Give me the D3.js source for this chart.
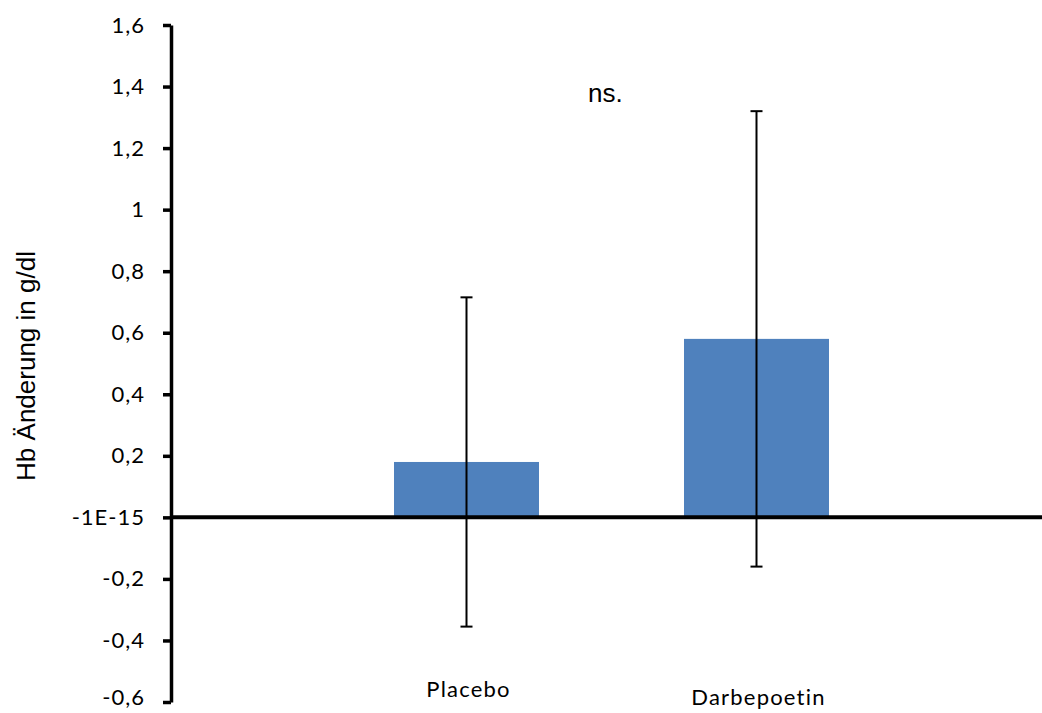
<!DOCTYPE html>
<html>
<head>
<meta charset="utf-8">
<script src="https://cdn.jsdelivr.net/npm/d3@7"></script>
<style>
  html, body { margin: 0; padding: 0; background: #fff; }
  svg { display: block; }
</style>
</head>
<body>
<svg id="chart" width="1042" height="713"></svg>
<script>
// Mean Hb change per group with error range (g/dl)
const categories = ["Placebo", "Darbepoetin"];
const means = [0.18, 0.58];
const errors = [0.535, 0.74];
const tickValues = [-0.6, -0.4, -0.2, 0, 0.2, 0.4, 0.6, 0.8, 1.0, 1.2, 1.4, 1.6];
const tickLabels = ["-0,6", "-0,4", "-0,2", "-1E-15", "0,2", "0,4", "0,6", "0,8", "1", "1,2", "1,4", "1,6"];
const yTitle = "Hb Änderung in g/dl";
const note = "ns.";

const svg = d3.select("#chart");
const axisFont = "Lato, 'Open Sans', sans-serif";
const titleFont = "'Liberation Sans', Arial, sans-serif";

const y = d3.scaleLinear().domain([-0.6, 1.6]).range([702, 25]);
const x = d3.scaleBand().domain(categories).range([249, 974])
  .paddingInner(0.5).paddingOuter(0.5);
const axisX = 171;

// bars
svg.append("g").selectAll("rect")
  .data(categories)
  .join("rect")
  .attr("x", d => x(d))
  .attr("width", x.bandwidth())
  .attr("y", (d, i) => y(Math.max(0, means[i])))
  .attr("height", (d, i) => Math.abs(y(means[i]) - y(0)))
  .attr("fill", "#4F81BD");

// error bars
const eb = svg.append("g").attr("stroke", "#000").attr("stroke-width", 2);
categories.forEach((c, i) => {
  const cx = x(c) + x.bandwidth() / 2;
  const hi = y(means[i] + errors[i]);
  const lo = y(means[i] - errors[i]);
  eb.append("line").attr("x1", cx).attr("x2", cx).attr("y1", hi).attr("y2", lo);
  eb.append("line").attr("x1", cx - 6).attr("x2", cx + 6).attr("y1", hi).attr("y2", hi);
  eb.append("line").attr("x1", cx - 6).attr("x2", cx + 6).attr("y1", lo).attr("y2", lo);
});

// zero line (category axis)
svg.append("line")
  .attr("x1", axisX).attr("x2", 1042)
  .attr("y1", y(0)).attr("y2", y(0))
  .attr("stroke", "#000").attr("stroke-width", 4);

// value axis
const yAxis = d3.axisLeft(y)
  .tickValues(tickValues)
  .tickFormat((d, i) => tickLabels[i])
  .tickSizeInner(8)
  .tickSizeOuter(0)
  .tickPadding(18);
const gy = svg.append("g").attr("transform", `translate(${axisX},0)`).call(yAxis);
gy.select(".domain").attr("stroke", "#000").attr("stroke-width", 3.5);
gy.selectAll(".tick line").attr("stroke", "#000").attr("stroke-width", 3.5);
gy.selectAll(".tick text")
  .attr("fill", "#000")
  .style("font-family", axisFont)
  .style("font-size", "22px")
  .style("letter-spacing", "1px");
// keep the lowest label inside the canvas
gy.selectAll(".tick text").filter(d => d === -0.6).attr("dy", "0.1em");

// category labels
const labelBaselines = [697, 705];
svg.append("g").selectAll("text")
  .data(categories)
  .join("text")
  .attr("x", d => x(d) + x.bandwidth() / 2 + 2)
  .attr("y", (d, i) => labelBaselines[i])
  .attr("text-anchor", "middle")
  .style("font-family", axisFont)
  .style("font-size", "22px")
  .style("letter-spacing", "1.2px")
  .attr("fill", "#000")
  .text(d => d);

// axis title
svg.append("text")
  .attr("transform", "translate(35,366) rotate(-90)")
  .attr("text-anchor", "middle")
  .style("font-family", titleFont)
  .style("font-size", "26px")
  .attr("fill", "#000")
  .text(yTitle);

// significance note
svg.append("text")
  .attr("x", 588)
  .attr("y", 102)
  .style("font-family", titleFont)
  .style("font-size", "26px")
  .attr("fill", "#000")
  .text(note);
</script>
</body>
</html>
